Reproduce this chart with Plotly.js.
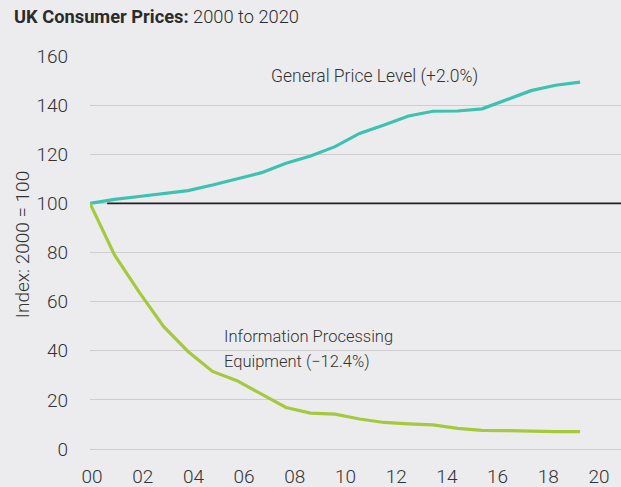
<!DOCTYPE html>
<html>
<head>
<meta charset="utf-8">
<script src="https://cdn.plot.ly/plotly-3.0.1.min.js"></script>
<style>
  body { margin: 0; background: #ececee; }
  #chart { width: 621px; height: 487px; }
</style>
</head>
<body>
<div id="chart"></div>
<script>
const years = [2000, 2001, 2002, 2003, 2004, 2005, 2006, 2007, 2008, 2009, 2010,
               2011, 2012, 2013, 2014, 2015, 2016, 2017, 2018, 2019, 2020];
const generalPrice = [100, 101.6, 102.8, 103.9, 105.2, 107.5, 110.1, 112.5, 116.3, 119.3, 123.1,
                      128.5, 131.9, 135.6, 137.5, 137.6, 138.5, 142.1, 145.9, 148.1, 149.4];
const infoEquipment = [100, 79, 64, 49.9, 39.7, 31.6, 27.8, 22.4, 16.9, 14.6, 14.2,
                       12.2, 10.8, 10.2, 9.8, 8.4, 7.6, 7.5, 7.2, 7.1, 7.1];
const tickYears = [2000, 2002, 2004, 2006, 2008, 2010, 2012, 2014, 2016, 2018, 2020];
const tickText = ['00', '02', '04', '06', '08', '10', '12', '14', '16', '18', '20'];

const fontFamily = 'Roboto, Liberation Sans, Arial, sans-serif';
const textColor = '#333333';

let trace1 = {
    x: years,
    y: generalPrice,
    type: 'scatter',
    mode: 'lines',
    name: 'General Price Level',
    line: { color: '#3dc2b1', width: 3.2 }
};
let trace2 = {
    x: years,
    y: infoEquipment,
    type: 'scatter',
    mode: 'lines',
    name: 'Information Processing Equipment',
    line: { color: '#a6c83d', width: 3.2 }
};
// empty trace so the label axis gets drawn
let tickTrace = {
    x: [2000],
    y: [null],
    xaxis: 'x2',
    type: 'scatter',
    mode: 'lines',
    hoverinfo: 'skip',
    showlegend: false
};

let layout = {
    width: 621,
    height: 487,
    paper_bgcolor: '#ececee',
    plot_bgcolor: '#ececee',
    showlegend: false,
    margin: { l: 90, r: 0, t: 56, b: 38 },
    font: { family: fontFamily, color: textColor, weight: 300 },
    title: {
        text: '<b>UK Consumer Prices:</b> 2000 to 2020',
        font: { size: 18.3, color: '#2b2b2b', weight: 300 },
        xref: 'container',
        x: 14 / 621,
        xanchor: 'left',
        yref: 'container',
        y: 1 - 17 / 487,
        yanchor: 'middle'
    },
    xaxis: {
        range: [2000, 2021.67],
        showgrid: false,
        zeroline: false,
        showticklabels: false,
        ticks: ''
    },
    xaxis2: {
        overlaying: 'x',
        anchor: 'y',
        side: 'bottom',
        range: [1999.92, 2020.87],
        tickvals: tickYears,
        ticktext: tickText,
        showgrid: false,
        zeroline: false,
        ticks: '',
        ticklabelstandoff: 14,
        tickfont: { size: 19, color: textColor, weight: 300 }
    },
    yaxis: {
        range: [0, 160],
        tickvals: [0, 20, 40, 60, 80, 100, 120, 140, 160],
        showgrid: true,
        gridcolor: '#cdcdcf',
        gridwidth: 1,
        zeroline: true,
        zerolinecolor: '#cdcdcf',
        zerolinewidth: 1,
        ticks: '',
        ticklabelstandoff: 21,
        tickfont: { size: 19, color: textColor, weight: 300 }
    },
    shapes: [{
        type: 'line',
        xref: 'x',
        yref: 'y',
        x0: 2000.7,
        x1: 2021.67,
        y0: 100,
        y1: 100,
        layer: 'above',
        line: { color: '#231f20', width: 1.8 }
    }],
    annotations: [{
        // y axis title, placed by hand to sit a little above the plot centre
        text: 'Index: 2000 = 100',
        textangle: -90,
        xref: 'paper',
        x: (22 - 90) / 531,
        y: 83,
        xanchor: 'center',
        yanchor: 'middle',
        showarrow: false,
        font: { size: 19, color: textColor, weight: 300 }
    }, {
        text: 'General Price Level (+2.0%)',
        x: 2007.42,
        y: 151.6,
        xanchor: 'left',
        yanchor: 'middle',
        xshift: -3,
        showarrow: false,
        font: { size: 17.5, color: textColor, weight: 300 }
    }, {
        text: 'Information Processing',
        x: 2005.51,
        y: 45.8,
        xanchor: 'left',
        yanchor: 'middle',
        xshift: -3,
        showarrow: false,
        font: { size: 16.5, color: textColor, weight: 300 }
    }, {
        text: 'Equipment (\u221212.4%)',
        x: 2005.51,
        y: 35.6,
        xanchor: 'left',
        yanchor: 'middle',
        xshift: -3,
        showarrow: false,
        font: { size: 16.5, color: textColor, weight: 300 }
    }]
};

var config = { responsive: false, displayModeBar: false };
Plotly.newPlot('chart', [trace1, trace2, tickTrace], layout, config);
</script>
</body>
</html>
